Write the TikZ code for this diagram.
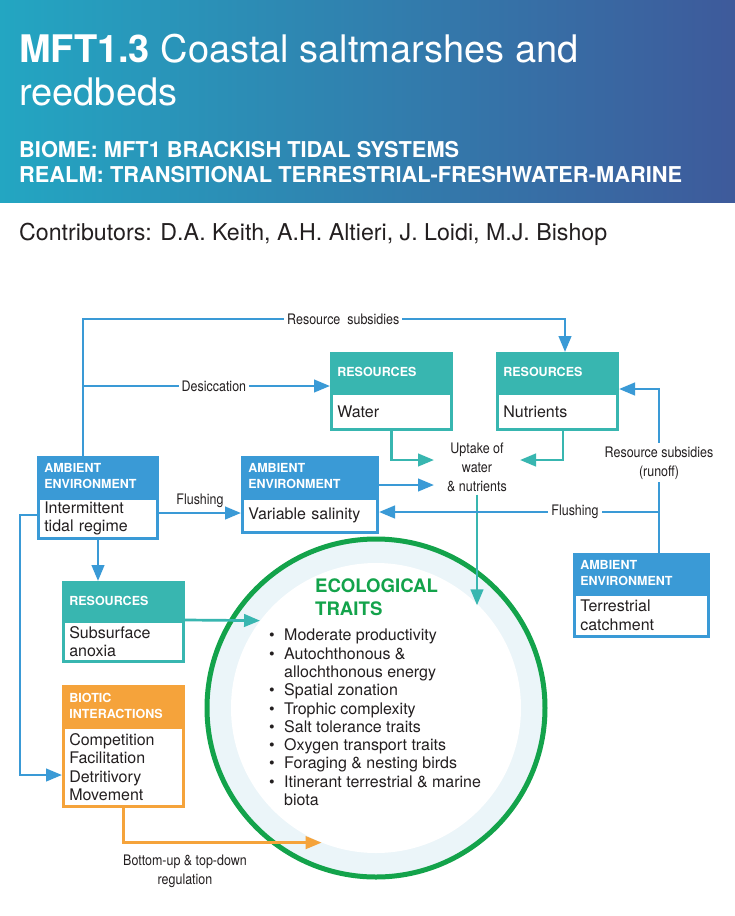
\documentclass[tikz,border=0pt]{standalone}
\usepackage{fontspec}
\setmainfont{TeX Gyre Heros}
\newfontfamily\condfont[FakeStretch=0.86]{TeX Gyre Heros}
\usetikzlibrary{positioning}
\usetikzlibrary{arrows.meta}
\usepackage{xcolor}

\definecolor{ambblue}{HTML}{3A9AD6}
\definecolor{restea}{HTML}{38B6B0}
\definecolor{bioorg}{HTML}{F5A33B}
\definecolor{ecogreen}{HTML}{13A34B}
\definecolor{ringfill}{HTML}{EBF5F9}
\definecolor{bannerL}{HTML}{23A6C2}
\definecolor{bannerR}{HTML}{3E5A9B}
\definecolor{inkgrey}{HTML}{231F20}

\newcommand{\trbul}{\makebox[15pt][l]{\textbullet}}
\newcommand{\trind}{\hspace*{15pt}}

\begin{document}
\begin{tikzpicture}[x=1pt, y=-1pt,
    hdr/.style={fill=#1, draw=#1, line width=2.6pt, text=white, anchor=north west, align=left,
        inner xsep=6pt, font=\bfseries\fontsize{12.5}{16}\selectfont},
    bdy/.style={draw=#1, fill=white, line width=2.6pt, align=left, inner xsep=6pt, inner ysep=2pt,
        text=inkgrey, font=\fontsize{16}{18.5}\selectfont},
    lbl/.style={font=\condfont\fontsize{14.5}{19}\selectfont, text=inkgrey, fill=white, inner sep=3pt},
    bluearrow/.style={draw=ambblue, line width=2.7pt, -{Triangle[length=16pt,width=12.5pt]}},
    tealarrow/.style={draw=restea, line width=2.7pt, -{Triangle[length=16pt,width=12.5pt]}},
    orgarrow/.style={draw=bioorg, line width=2.7pt, -{Triangle[length=16pt,width=12.5pt]}}
]
    \useasboundingbox (0,0) rectangle (735,916);
    \fill[white] (0,0) rectangle (735,916);

    % Banner
    \shade[left color=bannerL, right color=bannerR] (0,0) rectangle (735,202);
    \node[anchor=base west, inner sep=0pt, text=white, font=\fontsize{38}{42}\selectfont] (title1) at (19,62) {\textbf{MFT1.3} Coastal saltmarshes and};
    \node[anchor=base west, inner sep=0pt, text=white, font=\fontsize{38}{42}\selectfont] (title2) at (19,105) {reedbeds};
    \node[anchor=base west, inner sep=0pt, text=white, font=\bfseries\fontsize{21.8}{24}\selectfont] (biome) at (19,157) {BIOME: MFT1 BRACKISH TIDAL SYSTEMS};
    \node[anchor=base west, inner sep=0pt, text=white, font=\bfseries\fontsize{21.8}{24}\selectfont] (realm) at (19,182) {REALM: TRANSITIONAL TERRESTRIAL-FRESHWATER-MARINE};
    \node[anchor=base west, inner sep=0pt, text=inkgrey, font=\fontsize{23.2}{26}\selectfont] (contrib) at (19,240) {Contributors: D.A. Keith, A.H. Altieri, J. Loidi, M.J. Bishop};

    % Ecological traits
    \fill[ringfill] (376,708) circle[radius=168];
    \draw[ecogreen, line width=5pt] (376,708) circle[radius=169];
    \node[circle, fill=white, minimum size=290pt, inner sep=0pt] (traits) at (376,708) {};
    \node[anchor=north west, inner sep=0pt, align=left, text=ecogreen, font=\bfseries\fontsize{18.6}{23}\selectfont] (ecot) at (315,579) {ECOLOGICAL\\TRAITS};
    \node[anchor=north west, inner sep=0pt, align=left, text=inkgrey, font=\fontsize{16}{18.3}\selectfont] (tlist) at (269,629) {%
        \trbul Moderate productivity\\
        \trbul Autochthonous \&\\
        \trind allochthonous energy\\
        \trbul Spatial zonation\\
        \trbul Trophic complexity\\
        \trbul Salt tolerance traits\\
        \trbul Oxygen transport traits\\
        \trbul Foraging \& nesting birds\\
        \trbul Itinerant terrestrial \& marine\\
        \trind biota};

    % Boxes
    \node[hdr=ambblue, text width=107.4pt, minimum height=38.4pt] (ae1h) at (37,456) {AMBIENT\\ENVIRONMENT};
    \node[bdy=ambblue, text width=107.4pt, minimum height=40.4pt, below=0pt of ae1h] (ae1) {Intermittent\\tidal regime};

    \node[hdr=ambblue, text width=123.4pt, minimum height=38.4pt] (ae2h) at (241,456) {AMBIENT\\ENVIRONMENT};
    \node[bdy=ambblue, text width=123.4pt, minimum height=34.4pt, below=0pt of ae2h] (ae2) {Variable salinity};

    \node[hdr=restea, text width=108.4pt, minimum height=37.4pt] (reswh) at (330,352) {RESOURCES};
    \node[bdy=restea, text width=108.4pt, minimum height=36.4pt, below=0pt of reswh] (resw) {Water};

    \node[hdr=restea, text width=108.4pt, minimum height=37.4pt] (resnh) at (496,352) {RESOURCES};
    \node[bdy=restea, text width=108.4pt, minimum height=36.4pt, below=0pt of resnh] (resn) {Nutrients};

    \node[hdr=ambblue, text width=122.4pt, minimum height=37.4pt] (ae3h) at (573,553) {AMBIENT\\ENVIRONMENT};
    \node[bdy=ambblue, text width=122.4pt, minimum height=42.4pt, below=0pt of ae3h] (ae3) {Terrestrial\\catchment};

    \node[hdr=restea, text width=108.4pt, minimum height=36.4pt] (ressh) at (62,581) {RESOURCES};
    \node[bdy=restea, text width=108.4pt, minimum height=40.4pt, below=0pt of ressh] (ress) {Subsurface\\anoxia};

    \node[hdr=bioorg, text width=108.4pt, minimum height=38.4pt] (bioh) at (62,685) {BIOTIC\\INTERACTIONS};
    \node[bdy=bioorg, text width=108.4pt, minimum height=79.4pt, below=0pt of bioh] (bio) {Competition\\Facilitation\\Detritivory\\Movement};

    % Labels
    \node[lbl, fill=none, align=center, inner xsep=13pt] (uptake) at (477,467) {Uptake of\\water\\\& nutrients};
    \node[lbl, fill=none, align=center] (regul) at (185,871) {Bottom-up \& top-down\\regulation};
    \coordinate (dj) at (83,386);
    \coordinate (fj) at (659,512);

    % Connections
    \draw[bluearrow] (ae1h.north -| dj) -- (83,319) -- node[lbl, pos=0.54] {Resource~~subsidies} (565,319) -- (565,0 |- resnh.north);
    \draw[bluearrow] (dj) -- node[lbl, pos=0.53] {Desiccation} (reswh.west |- dj);
    \draw[bluearrow] (ae1.east |- 0,513) -- node[lbl, fill=none, above=1pt] {Flushing} (ae2.west |- 0,513);
    \draw[bluearrow] (ae2h.east |- 0,485) -- (uptake.west |- 0,485);
    \draw[tealarrow] (resw.south) |- (uptake.west |- 0,460);
    \draw[tealarrow] (563,0 |- resn.south) |- (uptake.east |- 0,460);
    \draw[tealarrow] (uptake.south) -- (uptake.south |- traits.45.8);
    \draw[bluearrow] (ae3h.north -| fj) -- node[lbl, align=center, pos=0.55] {Resource subsidies\\(runoff)} (659,389) -- (resnh.east |- 0,389);
    \draw[bluearrow] (fj) -- node[lbl, pos=0.3] {Flushing} (ae2.east |- fj);
    \draw[bluearrow] (ae1.south) -- (ae1.south |- ressh.north);
    \draw[bluearrow] (ae1.west |- 0,515) -| (20,775) -- (bio.west |- 0,775);
    \draw[tealarrow] (ressh.south east) -- (traits.143);
    \draw[orgarrow] (bio.south) |- (traits.248.6);
\end{tikzpicture}
\end{document}
